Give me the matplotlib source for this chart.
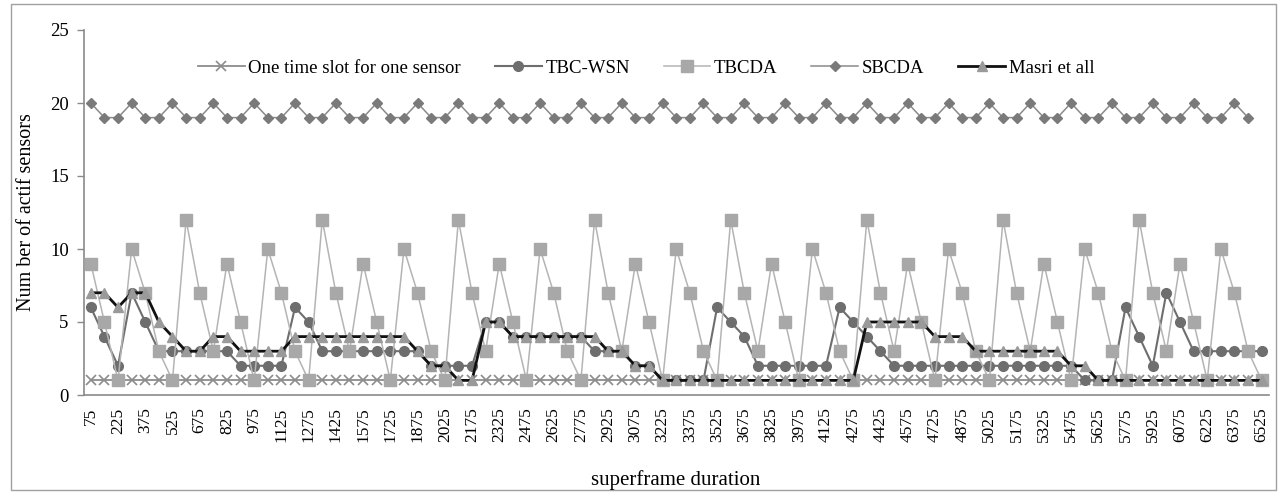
import matplotlib
matplotlib.use("Agg")
import matplotlib.pyplot as plt
import numpy as np
from matplotlib.patches import Rectangle

categories = [75, 150, 225, 300, 375, 450, 525, 600, 675, 750, 825, 900, 975, 1050, 1125,
              1200, 1275, 1350, 1425, 1500, 1575, 1650, 1725, 1800, 1875, 1950, 2025, 2100,
              2175, 2250, 2325, 2400, 2475, 2550, 2625, 2700, 2775, 2850, 2925, 3000, 3075,
              3150, 3225, 3300, 3375, 3450, 3525, 3600, 3675, 3750, 3825, 3900, 3975, 4050,
              4125, 4200, 4275, 4350, 4425, 4500, 4575, 4650, 4725, 4800, 4875, 4950, 5025,
              5100, 5175, 5250, 5325, 5400, 5475, 5550, 5625, 5700, 5775, 5850, 5925, 6000,
              6075, 6150, 6225, 6300, 6375, 6450, 6525]

one_slot = [1, 1, 1, 1, 1, 1, 1, 1, 1, 1, 1, 1, 1, 1, 1, 1, 1, 1, 1, 1, 1, 1, 1, 1, 1, 1, 1, 1, 1,
            1, 1, 1, 1, 1, 1, 1, 1, 1, 1, 1, 1, 1, 1, 1, 1, 1, 1, 1, 1, 1, 1, 1, 1, 1, 1, 1, 1, 1,
            1, 1, 1, 1, 1, 1, 1, 1, 1, 1, 1, 1, 1, 1, 1, 1, 1, 1, 1, 1, 1, 1, 1, 1, 1, 1, 1, 1, 1]

tbc_wsn = [6, 4, 2, 7, 5, 3, 3, 3, 3, 3, 3, 2, 2, 2, 2, 6, 5, 3, 3, 3, 3, 3, 3, 3, 3,
           2, 2, 2, 2, 5, 5, 4, 4, 4, 4, 4, 4, 3, 3, 3, 2, 2, 1, 1, 1, 1, 6, 5, 4,
           2, 2, 2, 2, 2, 2, 6, 5, 4, 3, 2, 2, 2, 2, 2, 2, 2, 2, 2, 2, 2, 2, 2, 2,
           1, 1, 1, 6, 4, 2, 7, 5, 3, 3, 3, 3, 3, 3]

tbcda = [9, 5, 1, 10, 7, 3, 1, 12, 7, 3, 9, 5, 1, 10, 7, 3, 1, 12, 7, 3,
         9, 5, 1, 10, 7, 3, 1, 12, 7, 3, 9, 5, 1, 10, 7, 3, 1, 12, 7, 3,
         9, 5, 1, 10, 7, 3, 1, 12, 7, 3, 9, 5, 1, 10, 7, 3, 1, 12, 7, 3,
         9, 5, 1, 10, 7, 3, 1, 12, 7, 3, 9, 5, 1, 10, 7, 3, 1, 12, 7, 3,
         9, 5, 1, 10, 7, 3, 1]

sbcda = [20, 19, 19, 20, 19, 19, 20, 19, 19, 20, 19, 19, 20, 19, 19, 20, 19, 19,
         20, 19, 19, 20, 19, 19, 20, 19, 19, 20, 19, 19, 20, 19, 19, 20, 19, 19,
         20, 19, 19, 20, 19, 19, 20, 19, 19, 20, 19, 19, 20, 19, 19, 20, 19, 19,
         20, 19, 19, 20, 19, 19, 20, 19, 19, 20, 19, 19, 20, 19, 19, 20, 19, 19,
         20, 19, 19, 20, 19, 19, 20, 19, 19, 20, 19, 19, 20, 19, None]

masri = [7, 7, 6, 7, 7, 5, 4, 3, 3, 4, 4, 3, 3, 3, 3, 4, 4, 4, 4, 4, 4, 4, 4, 4,
         3, 2, 2, 1, 1, 5, 5, 4, 4, 4, 4, 4, 4, 4, 3, 3, 2, 2,
         1, 1, 1, 1, 1, 1, 1, 1, 1, 1, 1, 1, 1, 1, 1,
         5, 5, 5, 5, 5, 4, 4, 4, 3, 3, 3, 3, 3, 3, 3, 2, 2,
         1, 1, 1, 1, 1, 1, 1, 1, 1, 1, 1, 1, 1]

series_names = ["One time slot for one sensor", "TBC-WSN", "TBCDA", "SBCDA", "Masri et all"]

plt.rcParams['font.family'] = ['Liberation Serif', 'DejaVu Serif']

W, H = 1281, 494
fig = plt.figure(figsize=(W / 100, H / 100), dpi=100)
fig.patch.set_facecolor('white')

# outer border
fig.patches.append(Rectangle((11 / W, 4 / H), (1276 - 11) / W, (490 - 4) / H,
                             transform=fig.transFigure, fill=False,
                             edgecolor='#a0a0a0', linewidth=1.0))

ax = fig.add_axes([84 / W, 99 / H, (1268.5 - 84) / W, (395 - 30) / H])

x = np.arange(len(categories))
to_arr = lambda s: np.array([np.nan if v is None else v for v in s], dtype=float)

ax.plot(x, to_arr(one_slot), color='#8c8c8c', lw=1.3, marker='x', ms=7, mew=1.2,
        mec='#8c8c8c', label=series_names[0], zorder=2)
ax.plot(x, to_arr(tbc_wsn), color='#6e6e6e', lw=1.5, marker='o', ms=7,
        mfc='#6e6e6e', mec='#6e6e6e', label=series_names[1], zorder=3)
ax.plot(x, to_arr(tbcda), color='#b4b4b4', lw=1.1, marker='s', ms=8,
        mfc='#a8a8a8', mec='#a8a8a8', label=series_names[2], zorder=4)
ax.plot(x, to_arr(sbcda), color='#8a8a8a', lw=1.1, marker='D', ms=5,
        mfc='#7a7a7a', mec='#7a7a7a', label=series_names[3], zorder=5)
ax.plot(x, to_arr(masri), color='#111111', lw=2.0, marker='^', ms=6.5,
        mfc='#9a9a9a', mec='#9a9a9a', label=series_names[4], zorder=6)

ax.set_xlim(-0.5, len(categories) - 0.5)
ax.set_ylim(0, 25)
ax.set_yticks([0, 5, 10, 15, 20, 25])
ax.set_xticks(x[::2])
ax.set_xticklabels([str(c) for c in categories[::2]], rotation=90, fontsize=12.5)
ax.tick_params(axis='x', length=0, pad=9)
ax.tick_params(axis='y', length=5, width=1, color='#8a8a8a', pad=6, labelsize=13.5)

for s in ['top', 'right']:
    ax.spines[s].set_visible(False)
for s in ['left', 'bottom']:
    ax.spines[s].set_color('#8a8a8a')
    ax.spines[s].set_linewidth(1.2)

ax.set_ylabel("Num ber of actif sensors", fontsize=14.5, labelpad=10)
fig.text(676 / W, 1 - 480 / H, "superframe duration", fontsize=15,
         ha='center', va='center')

leg = fig.legend(loc='center', bbox_to_anchor=(646 / W, 1 - 68 / H), ncol=5,
                 frameon=False, fontsize=13.5, handlelength=2.5, handletextpad=0.2,
                 columnspacing=1.8)

fig.savefig('out.png', dpi=100, facecolor='white')
